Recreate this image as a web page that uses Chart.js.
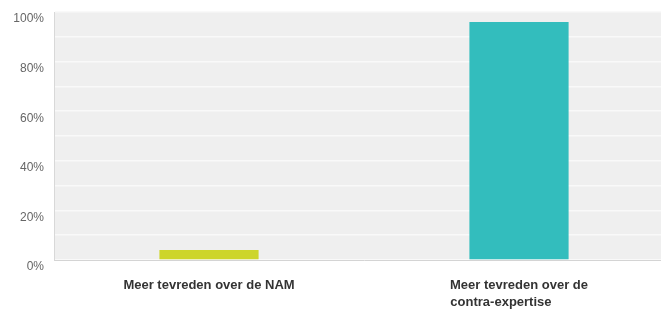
<!DOCTYPE html>
<html>
<head>
<meta charset="utf-8">
<script src="https://cdn.jsdelivr.net/npm/chart.js@4"></script>
<style>
  html, body { margin: 0; padding: 0; background: #fff; overflow: hidden; }
  #wrap { width: 674px; height: 309px; }
</style>
</head>
<body>
<div id="wrap"><canvas id="myChart" width="674" height="309"></canvas></div>
<script>
const categories = [
    'Meer tevreden over de NAM',
    ['Meer tevreden over de', 'contra-expertise']
];
const values = [4, 96];
const barColors = ['#cdd52b', '#33bdbd'];
const yTicks = [0, 20, 40, 60, 80, 100];

const labelFont = 'bold 13px "Liberation Sans", Arial, sans-serif';

// grey plot background behind the bars
const plotBackground = {
    id: 'plotBackground',
    beforeDraw(chart) {
        const {ctx, chartArea: a} = chart;
        ctx.save();
        ctx.fillStyle = '#efefef';
        ctx.fillRect(a.left, a.top, a.right - a.left, a.bottom - a.top);
        ctx.restore();
    }
};

// multi-line labels are left aligned in the original, so pad short lines
const measure = document.createElement('canvas').getContext('2d');
measure.font = labelFont;
function leftAlignLines(lines) {
    if (!Array.isArray(lines)) return lines;
    const widest = Math.max(...lines.map(l => measure.measureText(l).width));
    const sp = measure.measureText('\u00a0').width;
    return lines.map(l => {
        const n = Math.round((widest - measure.measureText(l).width) / sp);
        return l + '\u00a0'.repeat(n);
    });
}

const ctx = document.getElementById('myChart');
new Chart(ctx, {
    type: 'bar',
    data: {
        labels: categories,
        datasets: [{
            data: values,
            backgroundColor: barColors,
            borderWidth: 0,
            barPercentage: 0.32,
            categoryPercentage: 1
        }]
    },
    options: {
        responsive: false,
        animation: false,
        layout: { padding: { top: 12, left: 0, right: 0, bottom: 0 } },
        scales: {
            x: {
                grid: { display: false, drawTicks: false },
                border: { display: true, color: '#d4d4d4', width: 1 },
                ticks: {
                    color: '#333',
                    padding: 17,
                    maxRotation: 0,
                    autoSkip: false,
                    font: { family: '"Liberation Sans", Arial, sans-serif', size: 13, weight: 'bold', lineHeight: 1.3 },
                    callback: function(v) { return leftAlignLines(this.getLabelForValue(v)); }
                },
                afterFit(scale) {
                    scale.height = 49;
                    scale.paddingLeft = 0;
                    scale.paddingRight = 0;
                }
            },
            y: {
                min: 0,
                max: 100,
                grid: { color: '#f9f9f9', lineWidth: 1.5, drawTicks: false },
                border: { display: true, color: '#d8d8d8', width: 1 },
                ticks: {
                    stepSize: 10,
                    padding: 10,
                    labelOffset: 7,
                    color: '#666',
                    font: { family: '"Liberation Sans", Arial, sans-serif', size: 12 },
                    callback: v => yTicks.includes(v) ? v + '%' : ''
                },
                afterFit(scale) {
                    scale.width = 54;
                    scale.paddingTop = 0;
                    scale.paddingBottom = 0;
                }
            }
        },
        plugins: {
            legend: { display: false },
            tooltip: { enabled: false }
        }
    },
    plugins: [plotBackground]
});
</script>
</body>
</html>
